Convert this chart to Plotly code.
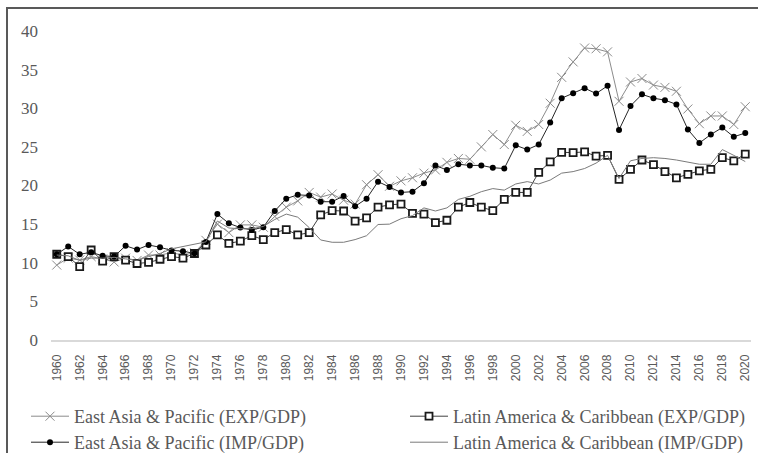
import plotly.graph_objects as go

years = list(range(1960, 2021))

eap_exp = [9.7, 10.6, 10.35, 10.8, 10.5, 10.1, 10.6, 10.3, 11.0, 11.0,
           11.3, 11.0, 11.3, 12.9, 15.0, 13.9, 14.9, 14.9, 14.6, 16.0,
           17.2, 18.0, 19.1, 18.5, 18.9, 18.1, 17.6, 20.1, 21.4, 19.9,
           20.6, 21.0, 21.6, 22.0, 23.0, 23.5, 23.4, 25.0, 26.6, 25.3,
           27.8, 27.0, 27.9, 30.65, 34.0, 36.0, 37.8, 37.7, 37.3, 30.9,
           33.4, 33.85, 33.0, 32.7, 32.2, 29.9, 28.0, 29.0, 29.0, 27.9,
           30.2]

lac_exp = [11.1, 10.8, 9.5, 11.65, 10.2, 10.8, 10.35, 9.9, 10.05, 10.45,
           10.8, 10.6, 11.2, 12.3, 13.6, 12.5, 12.8, 13.5, 13.0, 13.9,
           14.3, 13.6, 13.9, 16.2, 16.75, 16.7, 15.4, 15.8, 17.2, 17.5,
           17.6, 16.4, 16.3, 15.2, 15.5, 17.2, 17.8, 17.2, 16.75, 18.2,
           19.1, 19.1, 21.7, 23.05, 24.3, 24.25, 24.35, 23.8, 23.9, 20.8,
           22.1, 23.3, 22.7, 21.8, 21.0, 21.45, 21.9, 22.1, 23.6, 23.2,
           24.05]

eap_imp = [11.1, 12.1, 11.1, 11.35, 10.9, 10.8, 12.2, 11.7, 12.3, 12.0,
           11.6, 11.5, 11.2, 12.7, 16.3, 15.1, 14.55, 14.25, 14.6, 16.7,
           18.3, 18.8, 18.7, 17.9, 17.9, 18.65, 17.3, 18.3, 20.5, 19.8,
           19.1, 19.2, 20.3, 22.6, 22.0, 22.75, 22.6, 22.6, 22.3, 22.2,
           25.2, 24.65, 25.3, 28.15, 31.3, 31.95, 32.6, 31.9, 32.9, 27.2,
           30.3, 31.8, 31.3, 31.05, 30.5, 27.25, 25.5, 26.6, 27.5, 26.3,
           26.8]

lac_imp = [11.0, 10.9, 10.3, 10.6, 10.6, 10.7, 10.5, 10.3, 10.8, 11.2,
           11.8, 12.1, 12.4, 12.7, 15.4, 14.5, 14.4, 14.4, 14.7, 15.6,
           16.3, 15.9, 14.55, 12.95, 12.65, 12.65, 13.0, 13.5, 14.95, 15.0,
           15.7, 16.1, 17.1, 16.7, 17.1, 18.2, 18.6, 19.2, 19.6, 19.4,
           20.2, 20.5, 20.2, 20.7, 21.6, 21.8, 22.2, 22.9, 23.9, 20.9,
           23.2, 23.5, 23.6, 23.5, 23.3, 23.0, 22.75, 22.75, 24.65, 23.9,
           23.1]

names = ["East Asia & Pacific (EXP/GDP)", "Latin America & Caribbean (EXP/GDP)",
         "East Asia & Pacific (IMP/GDP)", "Latin America & Caribbean (IMP/GDP)"]

tick_years = list(range(1960, 2021, 2))
y_ticks = [0, 5, 10, 15, 20, 25, 30, 35, 40]

fig = go.Figure()
fig.add_trace(go.Scatter(
    x=years, y=eap_exp, name=names[0], mode="lines+markers", legend="legend",
    line=dict(color="#8c8c8c", width=1),
    marker=dict(symbol="x-thin", size=9, line=dict(color="#8c8c8c", width=1)),
))
fig.add_trace(go.Scatter(
    x=years, y=lac_exp, name=names[1], mode="lines+markers", legend="legend2",
    line=dict(color="#404040", width=1),
    marker=dict(symbol="square", size=7, color="white",
                line=dict(color="#1a1a1a", width=1.8)),
))
fig.add_trace(go.Scatter(
    x=years, y=eap_imp, name=names[2], mode="lines+markers", legend="legend3",
    line=dict(color="#262626", width=1),
    marker=dict(symbol="circle", size=6, color="black"),
))
fig.add_trace(go.Scatter(
    x=years, y=lac_imp, name=names[3], mode="lines", legend="legend4",
    line=dict(color="#7a7a7a", width=1),
))

L, R, T, B = 51, 7, 31, 113
W = 758 - L - R
H = 453 - T - B

def px_x(p):
    return (p - L) / W

def px_y(p):
    return (T + H - p) / H

leg_font = dict(family="Liberation Serif, Times New Roman, serif", size=18, color="#595959")

def leg(xp, yp):
    return dict(orientation="v", x=px_x(xp), xanchor="left",
                y=px_y(yp), yanchor="top", font=leg_font,
                itemwidth=38, bgcolor="rgba(0,0,0,0)")

fig.update_layout(
    width=758, height=453,
    margin=dict(l=L, r=R, t=T, b=B, autoexpand=False),
    paper_bgcolor="white", plot_bgcolor="white",
    showlegend=True,
    legend=leg(26, 398),
    legend2=leg(405, 398),
    legend3=leg(26, 424),
    legend4=leg(405, 424),
    xaxis=dict(
        range=[1959.5, 2020.5], tickmode="array", tickvals=tick_years,
        ticktext=[str(y) for y in tick_years], tickangle=-90,
        showgrid=False, zeroline=False, showline=True, automargin=False,
        linecolor="#d9d9d9", linewidth=1.5, ticks="",
        tickfont=dict(family="Liberation Sans, Arial, sans-serif", size=12, color="#595959"),
        ticklabelstandoff=8,
    ),
    yaxis=dict(
        range=[0, 40], tickmode="array", tickvals=y_ticks, automargin=False,
        showgrid=False, zeroline=False, showline=False, ticks="",
        tickfont=dict(family="Liberation Serif, Times New Roman, serif", size=17, color="#595959"),
        ticklabelstandoff=12,
    ),
    shapes=[dict(
        type="rect", xref="paper", yref="paper",
        x0=px_x(7), x1=px_x(800),
        y0=px_y(500), y1=px_y(8),
        line=dict(color="#595959", width=2), fillcolor="rgba(0,0,0,0)",
        layer="below",
    )],
)

fig.write_html("out.html", config={"displayModeBar": False},
               post_script="document.body.style.margin='0';document.body.style.padding='0';")
